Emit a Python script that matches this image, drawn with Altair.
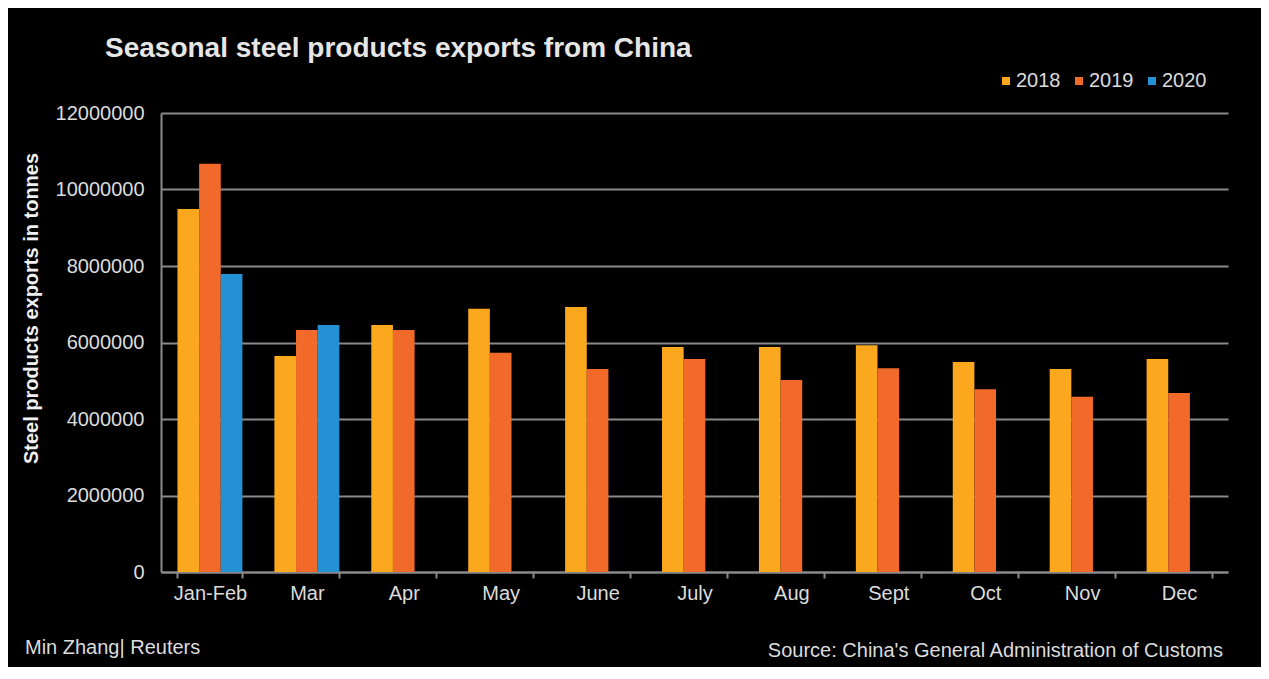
import altair as alt
import pandas as pd

months = ["Jan-Feb", "Mar", "Apr", "May", "June", "July", "Aug", "Sept", "Oct", "Nov", "Dec"]
years = ["2018", "2019", "2020"]
v2018 = [9490000, 5650000, 6460000, 6880000, 6930000, 5880000, 5880000, 5930000, 5490000, 5310000, 5570000]
v2019 = [10670000, 6330000, 6330000, 5730000, 5310000, 5570000, 5020000, 5330000, 4780000, 4580000, 4680000]
v2020_months = ["Jan-Feb", "Mar"]
v2020 = [7790000, 6460000]
colors = ["#FBA81E", "#F26A2A", "#2391D3"]
y_ticks = [0, 2000000, 4000000, 6000000, 8000000, 10000000, 12000000]

rows = []
for m, v in zip(months, v2018):
    rows.append({"month": m, "year": "2018", "value": v})
for m, v in zip(months, v2019):
    rows.append({"month": m, "year": "2019", "value": v})
for m, v in zip(v2020_months, v2020):
    rows.append({"month": m, "year": "2020", "value": v})
df = pd.DataFrame(rows)

FONT = "Liberation Sans"
TXT = "#dcdcdc"
GRID = "#8a8a8a"
FS = 20

bars = alt.Chart(df).mark_bar().encode(
    x=alt.X("month:N", sort=months,
            scale=alt.Scale(paddingInner=0.33, paddingOuter=0.17),
            axis=alt.Axis(title=None, labelAngle=0, labelFontSize=FS, labelColor=TXT,
                          labelFont=FONT, tickBand="extent", ticks=True, tickSize=6,
                          tickColor=GRID, tickWidth=2, domainColor=GRID, domainWidth=2,
                          labelPadding=5, grid=False)),
    xOffset=alt.XOffset("year:N", sort=years, scale=alt.Scale(domain=years, paddingInner=0, paddingOuter=0)),
    y=alt.Y("value:Q", scale=alt.Scale(domain=[0, 12000000], nice=False),
            axis=alt.Axis(title="Steel products exports in tonnes", values=y_ticks, format="d",
                          labelFontSize=FS, labelColor=TXT, labelFont=FONT, ticks=False,
                          labelPadding=17, domainColor=GRID, domainWidth=2,
                          grid=True, gridColor=GRID, gridWidth=2,
                          titleFontSize=20, titleFont=FONT, titleFontWeight="bold", titleColor="#f0f0f0",
                          titleAngle=-90, titleAlign="center", titleBaseline="alphabetic",
                          titleX=-124, titleY=195)),
    color=alt.Color("year:N", sort=years, scale=alt.Scale(domain=years, range=colors),
                    legend=alt.Legend(title=None, orient="none", direction="horizontal",
                                      legendX=835, legendY=-42, symbolType="square", symbolSize=64,
                                      symbolStrokeWidth=0, labelFontSize=FS, labelColor=TXT,
                                      labelFont=FONT, labelOffset=0, columnPadding=8)),
)

notes = pd.DataFrame({"label": ["Min Zhang| Reuters"]})
left_note = alt.Chart(notes).mark_text(align="left", baseline="middle", fontSize=FS, font=FONT,
                                       color=TXT).encode(
    text="label:N", x=alt.value(-136), y=alt.value(535))
src = pd.DataFrame({"label": ["Source: China's General Administration of Customs"]})
right_note = alt.Chart(src).mark_text(align="right", baseline="middle", fontSize=FS, font=FONT,
                                      color=TXT).encode(
    text="label:N", x=alt.value(1062), y=alt.value(538))

chart = alt.layer(bars, left_note, right_note).properties(
    width=1067, height=459,
    background="#000000",
    padding={"left": 153, "top": 105, "right": 33, "bottom": 95},
    autosize=alt.AutoSizeParams(type="none"),
    title=alt.TitleParams("Seasonal steel products exports from China", anchor="start", frame="group",
                          dx=-56, offset=8, fontSize=28, font=FONT, fontWeight="bold",
                          color="#e6e6e6"),
).configure_view(stroke=None)

chart.save("out.html", embed_options={"renderer": "svg", "actions": False})
